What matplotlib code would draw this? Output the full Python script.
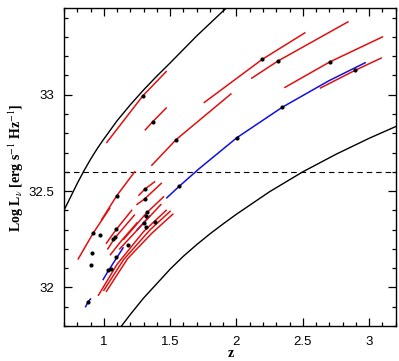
"""Radio luminosity vs redshift with per-source tracks and flux-limit curves."""

import matplotlib

matplotlib.use("Agg")
import matplotlib.pyplot as plt
from matplotlib.ticker import MultipleLocator

# flux-limit curves
upper_z = [0.70, 0.75, 0.80, 0.85, 0.90, 0.95, 1.00, 1.10, 1.20, 1.30, 1.40, 1.50,
           1.60, 1.70, 1.80, 1.90, 1.95]
upper_L = [32.40, 32.47, 32.54, 32.605, 32.665, 32.72, 32.77, 32.865, 32.948, 33.025,
           33.097, 33.165, 33.235, 33.305, 33.37, 33.435, 33.465]
lower_z = [1.10, 1.20, 1.30, 1.40, 1.50, 1.60, 1.70, 1.80, 1.90, 2.00, 2.25, 2.50,
           2.75, 3.00, 3.25]
lower_L = [31.77, 31.86, 31.945, 32.02, 32.095, 32.162, 32.222, 32.278, 32.33, 32.38,
           32.497, 32.60, 32.691, 32.774, 32.85]
limit_L = 32.6

# red tracks (start, through source, end)
red_z = [
    [1.0225, 1.295, 1.47], [1.313, 1.37, 1.47], [1.362, 1.545, 1.958],
    [1.7575, 2.195, 2.515], [2.115, 2.3125, 2.84], [2.365, 2.7025, 3.10],
    [2.633, 2.895, 3.09],
    [0.807, 0.92, 1.045], [0.983, 1.0975, 1.2325], [1.265, 1.3075, 1.3825],
    [1.25, 1.3075, 1.433], [1.02, 1.095, 1.21], [1.03, 1.0825, 1.23],
    [1.05, 1.13, 1.25], [1.15, 1.32, 1.45], [1.12, 1.30, 1.43],
    [0.96, 1.10, 1.30, 1.47], [1.00, 1.15, 1.35, 1.50], [1.02, 1.18, 1.36, 1.52],
]
red_L = [
    [32.7526, 32.995, 33.12], [32.818, 32.861, 32.931], [32.634, 32.767, 33.004],
    [32.96, 33.184, 33.321], [33.086, 33.175, 33.378], [33.038, 33.17, 33.30],
    [33.035, 33.127, 33.19],
    [32.148, 32.282, 32.411], [32.351, 32.476, 32.60], [32.479, 32.509, 32.548],
    [32.431, 32.459, 32.54], [32.23, 32.302, 32.40], [32.20, 32.256, 32.375],
    [32.17, 32.24, 32.335], [32.25, 32.385, 32.47], [32.20, 32.334, 32.43],
    [31.96, 32.12, 32.29, 32.40], [31.985, 32.145, 32.30, 32.395], [31.98, 32.15, 32.28, 32.38],
]

# blue track pieces
blue_z = [
    [0.863, 0.882, 0.90], [0.995, 1.032, 1.145], [1.253, 1.345],
    [1.475, 1.57, 1.72, 2.003, 2.345, 2.695, 2.97],
]
blue_L = [
    [31.90, 31.926, 31.94], [32.041, 32.084, 32.205], [32.30, 32.37],
    [32.465, 32.526, 32.617, 32.777, 32.935, 33.072, 33.166],
]

# sources
src_z = [1.295, 1.37, 1.545, 2.195, 2.3125, 2.7025, 2.895, 1.57, 2.003, 2.345,
         0.92, 1.0975, 1.3075, 1.3075, 1.095, 1.0825, 1.07, 0.97, 0.912, 0.90,
         1.325, 1.318, 1.32, 1.3825, 1.30, 1.032, 1.058, 1.095, 1.182, 0.882]
src_L = [32.995, 32.861, 32.767, 33.184, 33.175, 33.17, 33.127, 32.526, 32.777, 32.935,
         32.282, 32.476, 32.509, 32.459, 32.302, 32.264, 32.251, 32.27, 32.179, 32.119,
         32.39, 32.37, 32.316, 32.337, 32.334, 32.089, 32.098, 32.156, 32.222, 31.926]

plt.rcParams["font.family"] = "Liberation Sans"
plt.rcParams["mathtext.fontset"] = "stix"
fig = plt.figure(figsize=(3.99, 3.61), dpi=100)
ax = fig.add_axes([0.1604, 0.097, 0.8313, 0.8808])

ax.plot(upper_z, upper_L, color="black", lw=1.0)
ax.plot(lower_z, lower_L, color="black", lw=1.0)
ax.axhline(limit_L, color="black", lw=0.8, linestyle=(0, (5, 3.5)))

for zs, ls in zip(blue_z, blue_L):
    ax.plot(zs, ls, color="#1010e0", lw=1.1)
for zs, ls in zip(red_z, red_L):
    ax.plot(zs, ls, color="#e01010", lw=1.1)
ax.plot(src_z, src_L, "o", color="black", ms=3.0, mew=0)

ax.set_xlim(0.7, 3.2)
ax.set_ylim(31.8, 33.45)
ax.xaxis.set_minor_locator(MultipleLocator(0.1))
ax.yaxis.set_minor_locator(MultipleLocator(0.1))
ax.set_xticks([1, 1.5, 2, 2.5, 3])
ax.set_xticklabels(["1", "1.5", "2", "2.5", "3"])
ax.set_yticks([32, 32.5, 33])
ax.set_yticklabels(["32", "32.5", "33"])
ax.tick_params(which="both", direction="in", top=True, right=True, labelsize=9.5, width=0.9)
ax.tick_params(which="major", length=6, pad=7)
ax.tick_params(which="minor", length=3.2)
for spine in ax.spines.values():
    spine.set_linewidth(1.0)

fig.text(0.578, 0.022, "z", family="Liberation Serif", fontsize=10, fontweight="bold",
         ha="center", va="center")
fig.text(0.04, 0.535, r"Log L$_\nu$ [erg s$^{-1}$ Hz$^{-1}$]", family="Liberation Serif",
         fontsize=10, fontweight="bold", rotation=90, ha="center", va="center")

fig.savefig("out.png", dpi=100)
